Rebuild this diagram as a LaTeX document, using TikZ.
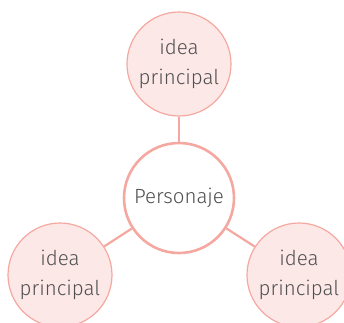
\documentclass[tikz,border=0pt]{standalone}
\usepackage{fontspec}
\setmainfont{Fira Sans Light}
\definecolor{edge}{HTML}{F4A8A0}
\definecolor{leaf}{HTML}{FDE8E8}
\definecolor{txt}{HTML}{505050}
\begin{document}
\begin{tikzpicture}[x=1pt,y=1pt,
  leafnode/.style={circle,draw=edge,fill=leaf,line width=1.2pt,minimum size=104pt,inner sep=0pt,align=center,text=txt,font=\fontsize{20.5}{30}\selectfont},
  hubnode/.style={circle,draw=edge,fill=white,line width=2.6pt,minimum size=110pt,inner sep=0pt,align=center,text=txt,font=\fontsize{20.5}{30}\selectfont},
  link/.style={draw=edge,line width=2.2pt}]
\useasboundingbox (0,0) rectangle (344,-322);
\begin{scope}
\clip (0,0) rectangle (344,-322);
\node[hubnode] (hub) at (179,-198) {Personaje};
\node[leafnode] (top) at (179,-64) {idea\\principal};
\node[leafnode] (left) at (60,-275) {idea\\principal};
\node[leafnode] (right) at (299,-275) {idea\\principal};
\draw[link] (top) -- (hub);
\draw[link] (left) -- (hub);
\draw[link] (right) -- (hub);
\end{scope}
\end{tikzpicture}
\end{document}
